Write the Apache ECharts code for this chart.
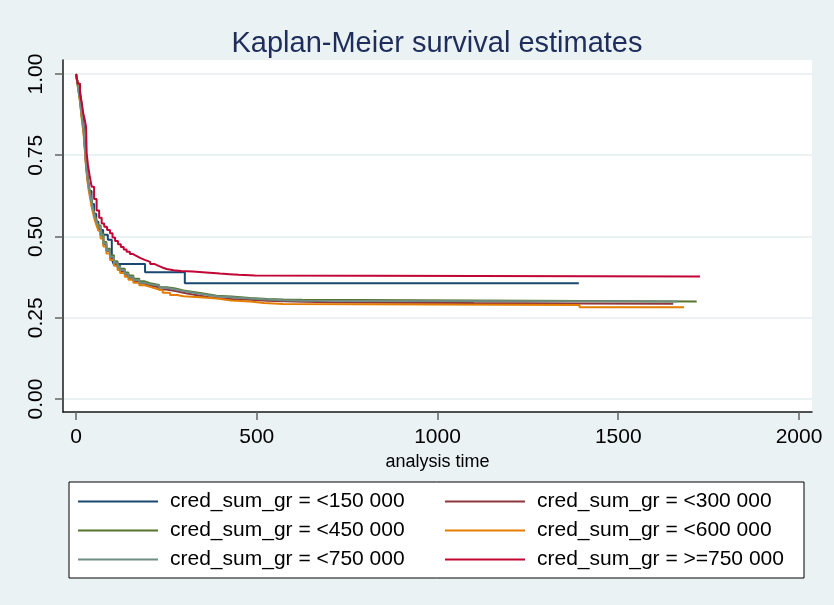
<!DOCTYPE html>
<html>
<head>
<meta charset="utf-8">
<script src="https://cdn.jsdelivr.net/npm/echarts@6/dist/echarts.min.js"></script>
<style>
  html, body { margin: 0; padding: 0; background: #eaf2f3; }
  #chart { width: 834px; height: 605px; }
</style>
</head>
<body>
<div id="chart"></div>
<script>
// group labels + stata s2color palette
const groupNames = [
  'cred_sum_gr = <150 000', 'cred_sum_gr = <300 000',
  'cred_sum_gr = <450 000', 'cred_sum_gr = <600 000',
  'cred_sum_gr = <750 000', 'cred_sum_gr = >=750 000'
];
const colors = ['#1a476f', '#90353b', '#55752f', '#e37e00', '#6e8e84', '#c10534'];

const xTicks = [0, 500, 1000, 1500, 2000];
const yTicks = [0, 0.25, 0.5, 0.75, 1];

// [analysis time, survival]
const km150 = [[0,1],[5,0.97],[11,0.95],[16,0.9],[20,0.86],[24,0.79],[28,0.73],[32,0.68],[37,0.64],[43,0.6],
  [50,0.57],[56,0.545],[62,0.52],[75,0.505],[88,0.49],[99,0.43],[104,0.415],[191,0.39],[301,0.356],[1391,0.356]];
const km300 = [[0,1],[3,0.98],[6,0.957],[9,0.935],[11,0.92],[14,0.888],[17,0.858],[20,0.835],[23,0.797],[25,0.763],
  [27,0.732],[29.5,0.702],[32,0.677],[35,0.652],[38.7,0.63],[43,0.602],[48,0.577],[52,0.559],[57,0.542],[62,0.527],
  [68,0.502],[75.6,0.476],[84,0.455],[94,0.435],[105,0.417],[115,0.404],[122,0.394],[135,0.382],[145,0.373],
  [158.6,0.363],[175,0.355],[190,0.349],[205,0.344],[230,0.337],[251,0.332],[275,0.327],[297,0.322],[320,0.318],
  [343,0.314],[365,0.311],[389,0.308],[430,0.305],[481,0.302],[530,0.3],[600,0.298],[700,0.296],[900,0.295],
  [1100,0.294],[1392,0.293],[1652,0.293]];
const km450 = [[0,1],[3,0.982],[6,0.96],[9,0.938],[11,0.924],[14,0.893],[17,0.863],[20,0.842],[23,0.804],[25,0.77],
  [27,0.739],[29.5,0.709],[32,0.684],[35,0.659],[38.7,0.637],[43,0.609],[48,0.584],[52,0.566],[57,0.549],[62,0.534],
  [68,0.509],[75.6,0.483],[84,0.462],[94,0.442],[105,0.424],[115,0.411],[122,0.401],[135,0.389],[145,0.38],
  [158.6,0.37],[175,0.362],[190,0.356],[205,0.351],[230,0.344],[251,0.34],[275,0.334],[297,0.33],[320,0.326],
  [343,0.322],[365,0.318],[389,0.315],[430,0.311],[481,0.308],[530,0.306],[573,0.305],[625,0.3],[1717,0.3]];
const km600 = [[0,1],[3,0.978],[6,0.953],[9,0.93],[11,0.914],[14,0.882],[17,0.85],[20,0.826],[23,0.788],[25,0.754],
  [27,0.723],[29.5,0.693],[32,0.668],[35,0.643],[38.7,0.62],[43,0.592],[48,0.568],[52,0.55],[57,0.533],[62,0.518],
  [68,0.494],[75.6,0.469],[84,0.448],[94,0.428],[105,0.41],[115,0.397],[122,0.388],[135,0.376],[145,0.367],
  [158.6,0.358],[175,0.35],[190,0.345],[205,0.34],[220,0.334],[240,0.327],[260,0.32],[280,0.316],[297,0.313],
  [343,0.309],[389,0.303],[430,0.3],[481,0.295],[520,0.292],[573,0.289],[1393,0.282],[1682,0.282]];
const km750 = [[0,1],[3,0.98],[6,0.955],[9,0.935],[11,0.92],[14,0.89],[17,0.86],[20,0.838],[23,0.8],[25,0.766],
  [27,0.735],[29.5,0.705],[32,0.68],[35,0.655],[38.7,0.633],[43,0.605],[48,0.58],[52,0.562],[57,0.545],[62,0.53],
  [68,0.505],[75.6,0.479],[84,0.458],[94,0.438],[105,0.42],[115,0.407],[122,0.397],[135,0.385],[145,0.376],
  [158.6,0.366],[175,0.358],[190,0.353],[205,0.349],[230,0.342],[251,0.337],[275,0.332],[297,0.328],[320,0.324],
  [343,0.32],[365,0.316],[389,0.313],[430,0.309],[481,0.306],[530,0.304],[573,0.302],[630,0.3],[1664,0.3]];
const km750up = [[0,1],[5,0.97],[11,0.94],[16,0.91],[20,0.879],[24,0.86],[27.7,0.838],[29.5,0.756],[33,0.72],
  [38,0.685],[43.3,0.653],[50,0.615],[57,0.58],[64,0.558],[71,0.54],[78,0.53],[86,0.52],[94,0.51],[101,0.497],
  [108,0.486],[116,0.476],[124,0.468],[132,0.46],[140,0.453],[149,0.446],[158,0.44],[167,0.434],[177,0.428],
  [190,0.422],[205,0.415],[218,0.409],[230,0.404],[240,0.4],[251,0.396],[270,0.394],[290,0.392],[323,0.389],
  [360,0.386],[398,0.384],[425,0.382],[450,0.38],[495,0.377],[1726,0.377]];

const kmData = [km150, km300, km450, km600, km750, km750up];

const chart = echarts.init(document.getElementById('chart'));
const font = 'Liberation Sans, Arial, sans-serif';

const option = {
  backgroundColor: '#eaf2f3',
  animation: false,
  title: {
    text: 'Kaplan-Meier survival estimates',
    left: 437,
    top: 29,
    padding: 0,
    textAlign: 'center',
    textStyle: { fontFamily: font, fontSize: 29, fontWeight: 'normal', color: '#1e2d5c' }
  },
  grid: {
    left: 63, right: 22, top: 60, bottom: 193,
    show: true, backgroundColor: '#ffffff', borderWidth: 0
  },
  legend: {
    left: 69, top: 482,
    orient: 'horizontal',
    width: 730,
    padding: [9, 0, 8, 9],
    itemGap: 8,
    itemWidth: 80, itemHeight: 2,
    icon: 'rect',
    backgroundColor: '#ffffff',
    borderColor: '#000000',
    borderWidth: 1,
    borderRadius: 0,
    textStyle: {
      fontFamily: font, fontSize: 21, color: '#000',
      width: 267, lineHeight: 19, padding: [0, 0, 0, 7]
    }
  },
  xAxis: {
    type: 'value',
    min: -36, max: 2036,
    name: 'analysis time',
    nameLocation: 'middle',
    nameGap: 38,
    nameTextStyle: { fontFamily: font, fontSize: 18, color: '#000' },
    axisLine: { onZero: false, lineStyle: { color: '#1a1a1a', width: 1.5 } },
    axisTick: { customValues: xTicks, length: 8, lineStyle: { color: '#666', width: 1.5 } },
    axisLabel: {
      customValues: xTicks, margin: 15, fontFamily: font, fontSize: 21, color: '#000',
      formatter: v => String(v)
    },
    splitLine: { show: false }
  },
  yAxis: {
    type: 'value',
    min: -0.04, max: 1.043,
    axisLine: { show: true, onZero: false, lineStyle: { color: '#1a1a1a', width: 1.5 } },
    axisTick: { show: true, customValues: yTicks, length: 8, lineStyle: { color: '#666', width: 1.5 } },
    axisLabel: {
      customValues: yTicks, rotate: 90, margin: 16,
      fontFamily: font, fontSize: 21, color: '#000',
      formatter: v => v.toFixed(2)
    },
    splitLine: { show: true, lineStyle: { color: '#eaf2f3', width: 2 } }
  },
  series: kmData.map((d, i) => ({
    name: groupNames[i],
    type: 'line',
    step: 'end',
    data: d,
    showSymbol: false,
    symbol: 'none',
    color: colors[i],
    lineStyle: { width: 2, color: colors[i] }
  }))
};

chart.setOption(option);
</script>
</body>
</html>
